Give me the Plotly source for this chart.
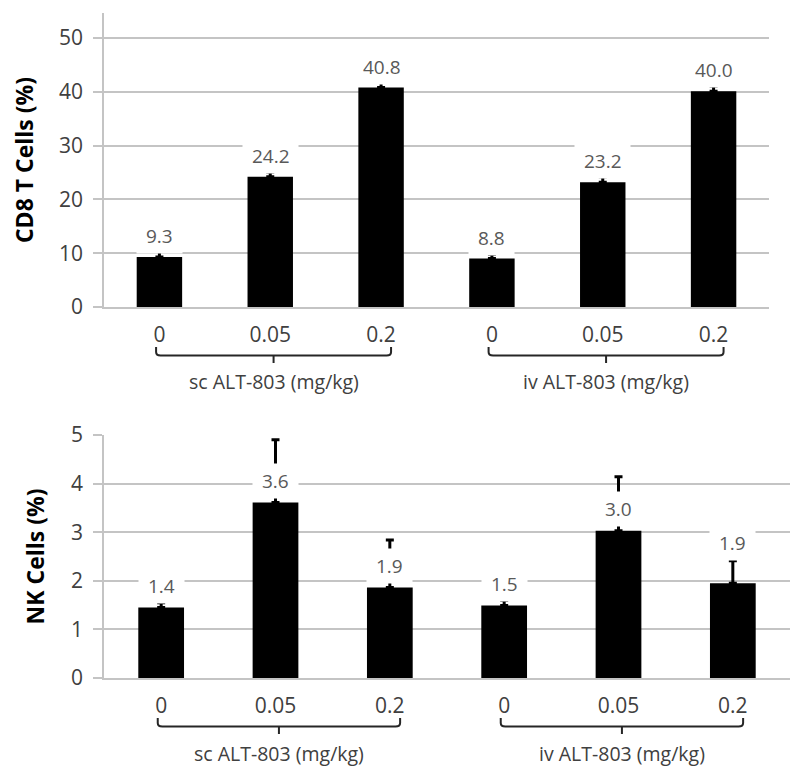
import plotly.graph_objects as go

# ---- data ----
dose_labels = ["0", "0.05", "0.2", "0", "0.05", "0.2"]
group_names = ["sc ALT-803 (mg/kg)", "iv ALT-803 (mg/kg)"]
cd8_values = [9.3, 24.2, 40.8, 9.0, 23.2, 40.1]
cd8_errors = [1.1, 0.9, 1.2, 0.8, 1.0, 1.0]
cd8_text = ["9.3", "24.2", "40.8", "8.8", "23.2", "40.0"]
nk_values = [1.45, 3.61, 1.86, 1.49, 3.03, 1.95]
nk_errors = [0.10, 1.29, 0.98, 0.11, 1.11, 0.46]
nk_text = ["1.4", "3.6", "1.9", "1.5", "3.0", "1.9"]
nk_label_shift = [22, 22, 22, 22, 22, 40]

# page has an 8px body margin: figure pixel = screen pixel - 8
OFF = 8
W, H = 792, 765
ML, MR, MT, MB = 104 - OFF, 10, 5, 5
PW, PH = W - ML - MR, H - MT - MB

def py(screen_pix):
    return (H - MB - (screen_pix - OFF)) / PH

top_dom = [py(307), py(13)]
bot_dom = [py(678), py(435)]

FONT = "Open Sans"
GRID = "#c4c4c4"
TICKC = "#404040"
LABC = "#595959"

fig = go.Figure()
xs = list(range(len(dose_labels)))

fig.add_trace(go.Bar(x=xs, y=cd8_values, width=0.41, marker=dict(color="black", line=dict(width=0)),
                     error_y=dict(type="data", array=cd8_errors, arrayminus=[0]*6, symmetric=False,
                                  color="black", thickness=3, width=4),
                     xaxis="x", yaxis="y", showlegend=False, hoverinfo="skip"))
fig.add_trace(go.Bar(x=xs, y=nk_values, width=0.40, marker=dict(color="black", line=dict(width=0)),
                     error_y=dict(type="data", array=nk_errors, arrayminus=[0]*6, symmetric=False,
                                  color="black", thickness=3, width=4),
                     xaxis="x2", yaxis="y2", showlegend=False, hoverinfo="skip"))

annotations = []
for i, (v, t) in enumerate(zip(cd8_values, cd8_text)):
    annotations.append(dict(x=i, y=v, xref="x", yref="y", text=f"&nbsp;{t}&nbsp;", showarrow=False,
                            yanchor="middle", yshift=21, bgcolor="white", borderpad=4,
                            font=dict(family=FONT, size=19, color=LABC)))
for i, (v, t, s) in enumerate(zip(nk_values, nk_text, nk_label_shift)):
    annotations.append(dict(x=i, y=v, xref="x2", yref="y2", text=f"&nbsp;{t}&nbsp;", showarrow=False,
                            yanchor="middle", yshift=s, bgcolor="white", borderpad=4,
                            font=dict(family=FONT, size=19, color=LABC)))

shapes = []
def add_brackets(xref, dom0):
    yh = dom0 - 48.5 / PH
    yt = dom0 - 40 / PH
    yc = dom0 - 45 / PH
    ys = dom0 - 56 / PH
    ylab = dom0 - 75 / PH
    for g, name in enumerate(group_names):
        x0 = g * 3 - 0.03
        x1 = g * 3 + 2 + 0.09
        xm = (x0 + x1) / 2
        d = 0.04
        path = (f"M {x0},{yt} L {x0},{yc} Q {x0},{yh} {x0+d},{yh} L {x1-d},{yh} "
                f"Q {x1},{yh} {x1},{yc} L {x1},{yt} M {xm},{yh} L {xm},{ys}")
        shapes.append(dict(type="path", path=path, xref=xref, yref="paper",
                           line=dict(color="#262626", width=2)))
        annotations.append(dict(x=xm, y=ylab, xref=xref, yref="paper", text=name, showarrow=False,
                                yanchor="middle", font=dict(family=FONT, size=19.5, color=TICKC)))

add_brackets("x", top_dom[0])
add_brackets("x2", bot_dom[0])

xaxis_common = dict(range=[-0.5, 5.5], tickmode="array", tickvals=xs, ticktext=dose_labels,
                    showgrid=False, zeroline=False, showline=True, linecolor=GRID, linewidth=1.5,
                    ticks="", ticklabelstandoff=8, automargin=False,
                    tickfont=dict(family=FONT, size=21, color=TICKC))
yaxis_common = dict(showgrid=True, gridcolor=GRID, gridwidth=1.5, zeroline=False, showline=True,
                    linecolor=GRID, linewidth=1.5, ticks="outside", ticklen=9, tickcolor=GRID,
                    tickwidth=1.5, ticklabelstandoff=6, automargin=False,
                    tickfont=dict(family=FONT, size=21, color=TICKC))

fig.update_layout(
    width=W, height=H, margin=dict(l=ML, r=MR, t=MT, b=MB, autoexpand=False),
    plot_bgcolor="white", paper_bgcolor="white", bargap=0.59,
    xaxis=dict(domain=[0, (769 - OFF - ML) / PW], anchor="y", **xaxis_common),
    xaxis2=dict(domain=[0, 1], anchor="y2", **xaxis_common),
    yaxis=dict(domain=top_dom, anchor="x", range=[0, 54.65], tickvals=[0, 10, 20, 30, 40, 50],
               title=dict(text="<b>CD8 T Cells (%)</b>", standoff=20,
                          font=dict(family=FONT, size=23, color="black")), **yaxis_common),
    yaxis2=dict(domain=bot_dom, anchor="x2", range=[0, 5], tickvals=[0, 1, 2, 3, 4, 5],
                title=dict(text="<b>NK Cells (%)</b>", standoff=20,
                           font=dict(family=FONT, size=23, color="black")), **yaxis_common),
    annotations=annotations, shapes=shapes,
)

fig.write_html("out.html")
